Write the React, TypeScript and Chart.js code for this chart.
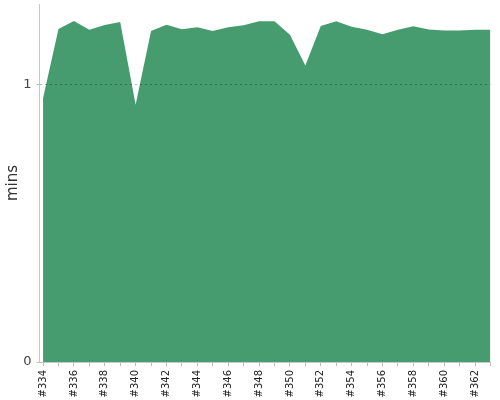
import React, { useEffect, useRef } from "react";
import { Chart, registerables } from "chart.js";

Chart.register(...registerables);

const builds: number[] = [334, 335, 336, 337, 338, 339, 340, 341, 342, 343, 344, 345, 346, 347, 348, 349, 350, 351, 352, 353, 354, 355, 356, 357, 358, 359, 360, 361, 362, 363];
const durations: number[] = [0.952, 1.202, 1.231, 1.199, 1.216, 1.227, 0.928, 1.195, 1.217, 1.201, 1.208, 1.195, 1.208, 1.215, 1.23, 1.23, 1.181, 1.07, 1.213, 1.23, 1.21, 1.199, 1.183, 1.199, 1.212, 1.2, 1.196, 1.196, 1.199, 1.199];
const yTicks: number[] = [0, 1];
const yLabel = "mins";

export default function App() {
  const ref = useRef<HTMLCanvasElement | null>(null);
  useEffect(() => {
    if (!ref.current) return;
    const chart = new Chart(ref.current, {
      type: "line",
      data: {
        datasets: [
          {
            data: builds.map((b, i) => ({ x: b, y: durations[i] })),
            fill: "origin",
            backgroundColor: "#469c6e",
            borderWidth: 0,
            borderColor: "#469c6e",
            pointRadius: 0,
            tension: 0,
          },
        ],
      },
      options: {
        animation: false,
        responsive: true,
        maintainAspectRatio: false,
        layout: { padding: { left: 0, right: 9.5, top: 4, bottom: 0 } },
        plugins: { legend: { display: false }, tooltip: { enabled: false } },
        scales: {
          x: {
            type: "linear",
            min: 333.77,
            max: 363,
            afterBuildTicks: (scale: any) => {
              scale.ticks = builds.map((v) => ({ value: v }));
            },
            afterFit: (scale: any) => {
              scale.height = 38;
              scale.paddingLeft = 0;
              scale.paddingRight = 0;
            },
            grid: { drawOnChartArea: false, tickLength: 4, tickColor: "#bbbbbb" },
            border: { color: "#c8c8c8", z: 2 },
            ticks: {
              autoSkip: false,
              minRotation: 90,
              maxRotation: 90,
              padding: 4,
              color: "#222222",
              font: { family: "DejaVu Sans", size: 10 },
              callback: (v: any, i: number) => (i % 2 === 0 ? "#" + v : ""),
            },
          },
          y: {
            min: 0,
            max: 1.292,
            afterBuildTicks: (scale: any) => {
              scale.ticks = yTicks.map((v) => ({ value: v }));
            },
            afterFit: (scale: any) => {
              scale.width = 39.5;
              scale.paddingTop = 0;
              scale.paddingBottom = 0;
            },
            grid: {
              z: 1,
              color: (ctx: any) => (ctx.tick && ctx.tick.value === 1 ? "rgba(0,0,0,0.3)" : "rgba(0,0,0,0)"),
              tickColor: "#bbbbbb",
              tickLength: 3,
            },
            border: { color: "#c8c8c8", dash: [2, 3], z: 2 },
            ticks: {
              padding: 5,
              color: "#444444",
              font: { family: "DejaVu Sans", size: 13 },
              callback: (v: any) => String(v),
            },
            title: {
              display: true,
              text: yLabel,
              color: "#333333",
              font: { family: "DejaVu Sans", size: 15 },
              padding: { top: 4, bottom: 0 },
            },
          },
        },
      },
    });
    return () => chart.destroy();
  }, []);
  return (
    <div style={{ position: "fixed", left: 0, top: 0, width: 500, height: 400 }}>
      <canvas ref={ref} />
    </div>
  );
}
